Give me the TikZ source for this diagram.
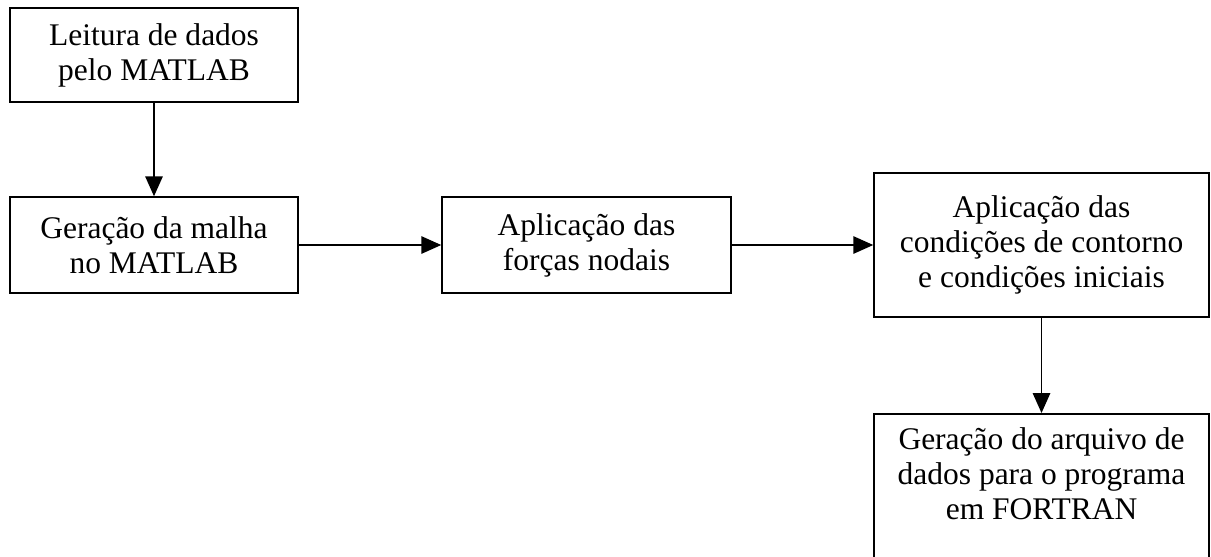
\documentclass[tikz,border=0pt]{standalone}
\usepackage{fontspec}
\setmainfont{Liberation Serif}
\usetikzlibrary{arrows.meta}
\begin{document}
\begin{tikzpicture}[x=0.4pt, y=-0.4pt, >={Triangle[length=8pt,width=7pt]},
  caixa/.style={draw, line width=0.6pt, align=center, inner sep=0pt,
    font=\fontsize{12.6}{14}\selectfont}]
  \useasboundingbox (0,0) rectangle (1211,556);
  \clip (0,0) rectangle (1211,556);

  \node[caixa, minimum width=115.2pt, minimum height=37.6pt] (leitura) at (154,55) {Leitura de dados\\pelo MATLAB};
  \node[caixa, minimum width=115.2pt, minimum height=38.4pt] (malha) at (154,245) {Geração da malha\\no MATLAB};
  \node[caixa, minimum width=115.6pt, minimum height=38.4pt] (forcas) at (586.5,245) {Aplicação das\\forças nodais};
  \node[caixa, minimum width=134pt, minimum height=57.6pt] (contorno) at (1041.5,245) {Aplicação das\\condições de contorno\\e condições iniciais};
  \node[caixa, anchor=north, minimum width=134pt, inner ysep=5.5pt, text depth=62pt] (arquivo) at (1041.5,413) {Geração do arquivo de\\dados para o programa\\em FORTRAN};

  \draw[->, line width=0.6pt] (leitura) -- (malha);
  \draw[->, line width=0.6pt] (malha) -- (forcas);
  \draw[->, line width=0.6pt] (forcas) -- (contorno);
  \draw[->, line width=0.6pt] (contorno) -- (arquivo);
\end{tikzpicture}
\end{document}
